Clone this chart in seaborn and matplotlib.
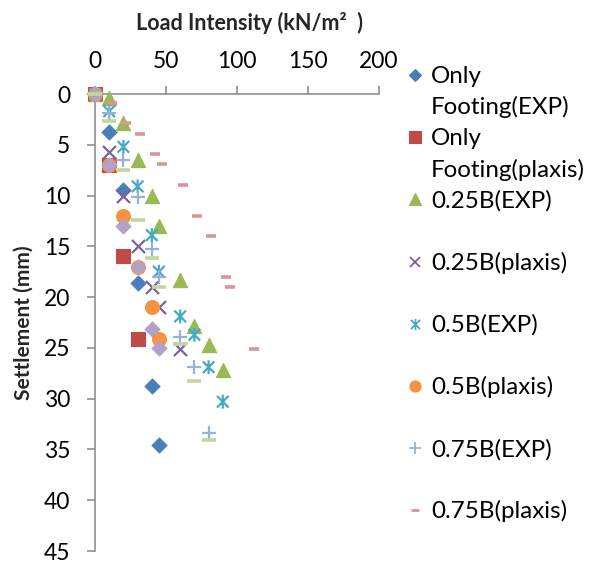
import matplotlib
matplotlib.use("Agg")
import matplotlib.pyplot as plt
import seaborn as sns
import pandas as pd
from matplotlib.path import Path
from matplotlib.lines import Line2D

# ---------------- data ----------------
only_exp_load = [0, 10, 20, 30, 40, 45]
only_exp_settle = [0, 3.7, 9.5, 18.6, 28.8, 34.6]

only_plaxis_load = [0, 10, 20, 30]
only_plaxis_settle = [0, 7.0, 16.0, 24.1]

b025_exp_load = [0, 10, 20, 30, 40, 45, 60, 70, 80, 90]
b025_exp_settle = [0, 0.4, 2.9, 6.5, 10.0, 13.0, 18.3, 22.8, 24.7, 27.2]

b025_plaxis_load = [0, 10, 20, 30, 40, 45, 60]
b025_plaxis_settle = [0, 5.7, 10.0, 15.0, 19.0, 21.0, 25.1]

b05_exp_load = [0, 10, 20, 30, 40, 45, 60, 70, 80, 90]
b05_exp_settle = [0, 1.7, 5.2, 9.1, 13.9, 17.5, 21.9, 23.7, 26.9, 30.3]

b05_plaxis_load = [0, 10, 20, 30, 40, 45]
b05_plaxis_settle = [0, 7.0, 12.0, 17.0, 21.0, 24.1]

b075_exp_load = [0, 10, 20, 30, 40, 45, 60, 70, 80]
b075_exp_settle = [0, 1.9, 6.5, 10.1, 15.3, 18.0, 23.9, 26.9, 33.4]

b075_plaxis_load = [0, 12, 22, 32, 42, 47, 62, 72, 82, 92, 95, 112]
b075_plaxis_settle = [0, 0.9, 2.9, 3.9, 5.9, 6.9, 9.0, 12.0, 14.0, 18.0, 19.0, 25.1]

extra1_load = [0, 10, 20, 30, 40, 45]
extra1_settle = [0, 7.0, 13.0, 17.0, 23.1, 25.0]

extra2_load = [0, 10, 20, 30, 40, 45, 60, 70, 80]
extra2_settle = [0, 2.7, 7.5, 12.4, 16.1, 19.0, 24.6, 28.3, 34.1]

series_names = ["Only\nFooting(EXP)", "Only\nFooting(plaxis)", "0.25B(EXP)",
                "0.25B(plaxis)", "0.5B(EXP)", "0.5B(plaxis)", "0.75B(EXP)",
                "0.75B(plaxis)", "_extra1", "_extra2"]

x_ticks = [0, 50, 100, 150, 200]
y_ticks = [0, 5, 10, 15, 20, 25, 30, 35, 40, 45]

# ---------------- styles ----------------
asterisk = Path([(-0.5, -0.5), (0.5, 0.5), (-0.5, 0.5), (0.5, -0.5), (0, -0.6), (0, 0.6)],
                [Path.MOVETO, Path.LINETO] * 3)

styles = [
    dict(marker="D", color="#4A7EBB", s=58, filled=True, lw=0.8),
    dict(marker="s", color="#BE4B48", s=100, filled=True, lw=0.8),
    dict(marker="^", color="#98B954", s=105, filled=True, lw=0.8),
    dict(marker="x", color="#7D60A0", s=88, filled=False, lw=1.6),
    dict(marker=asterisk, color="#46AAC5", s=100, filled=False, lw=1.6),
    dict(marker="o", color="#F69240", s=100, filled=True, lw=0.8),
    dict(marker="+", color="#95B3D7", s=100, filled=False, lw=1.6),
    dict(marker="_", color="#D99694", s=42, filled=False, lw=2.6),
    dict(marker="D", color="#B3A2C7", s=58, filled=True, lw=0.8),
    dict(marker="_", color="#C3D69B", s=100, filled=False, lw=2.6),
]

loads = [only_exp_load, only_plaxis_load, b025_exp_load, b025_plaxis_load, b05_exp_load,
         b05_plaxis_load, b075_exp_load, b075_plaxis_load, extra1_load, extra2_load]
settles = [only_exp_settle, only_plaxis_settle, b025_exp_settle, b025_plaxis_settle,
           b05_exp_settle, b05_plaxis_settle, b075_exp_settle, b075_plaxis_settle,
           extra1_settle, extra2_settle]

# ---------------- figure ----------------
sns.set_style("white")
plt.rcParams["font.family"] = ["Lato", "DejaVu Sans"]

W, H = 590, 566
fig = plt.figure(figsize=(W / 100, H / 100), dpi=100)
ax = fig.add_axes([95 / W, 1 - 551 / H, (379 - 95) / W, (551 - 94) / H])

for name, xs, ys, st in zip(series_names, loads, settles, styles):
    df = pd.DataFrame({"load": xs, "settle": ys})
    kw = dict(marker=st["marker"], s=st["s"], linewidth=st["lw"], clip_on=False, zorder=3,
              color=st["color"], edgecolor=st["color"])
    if not st["filled"] and not isinstance(st["marker"], str):
        kw.update(facecolor="none")
    sns.scatterplot(data=df, x="load", y="settle", ax=ax, legend=False, **kw)

ax.set_xlim(0, 200)
ax.set_ylim(45, 0)
ax.set_xticks(x_ticks)
ax.set_yticks(y_ticks)
ax.xaxis.tick_top()
ax.xaxis.set_label_position("top")

for side in ["right", "bottom"]:
    ax.spines[side].set_visible(False)
for side in ["left", "top"]:
    ax.spines[side].set_color("#868686")
    ax.spines[side].set_linewidth(1.1)

ax.tick_params(axis="both", direction="out", length=5.8, width=1.1, color="#868686",
               labelsize=16.5, labelcolor="black")
ax.tick_params(axis="x", top=True, bottom=False, labeltop=True, labelbottom=False, pad=10)
ax.tick_params(axis="y", left=True, right=False, pad=12)

ax.set_xlabel("Load Intensity (kN/m\u00b2  )", fontsize=15.5, fontweight="bold", labelpad=15)
ax.xaxis.label.set_x(0.5 + 13 / 284)
ax.set_ylabel("Settlement (mm)", fontsize=15, fontweight="bold", labelpad=7)

# ---------------- legend (first 8 series) ----------------
leg_y0, leg_pitch, line_gap = 75, 62.2, 31.5
mk_x, txt_x = 415, 431
leg_scale = 0.8
for i, (name, st) in enumerate(zip(series_names[:8], styles[:8])):
    yc = leg_y0 + i * leg_pitch
    ms = (st["s"] ** 0.5) * leg_scale
    common = dict(transform=fig.transFigure, marker=st["marker"], markersize=ms,
                  color=st["color"], markeredgecolor=st["color"], linestyle="none")
    if st["filled"]:
        ln = Line2D([mk_x / W], [1 - yc / H], markeredgewidth=0.8, **common)
    else:
        ln = Line2D([mk_x / W], [1 - yc / H], markerfacecolor="none",
                    markeredgewidth=st["lw"] * 0.8, **common)
    fig.add_artist(ln)
    for j, line in enumerate(name.split("\n")):
        fig.text(txt_x / W, 1 - (yc + j * line_gap + 8) / H, line, fontsize=17.4,
                 ha="left", va="baseline", color="black")

fig.savefig("out.png", dpi=100)
